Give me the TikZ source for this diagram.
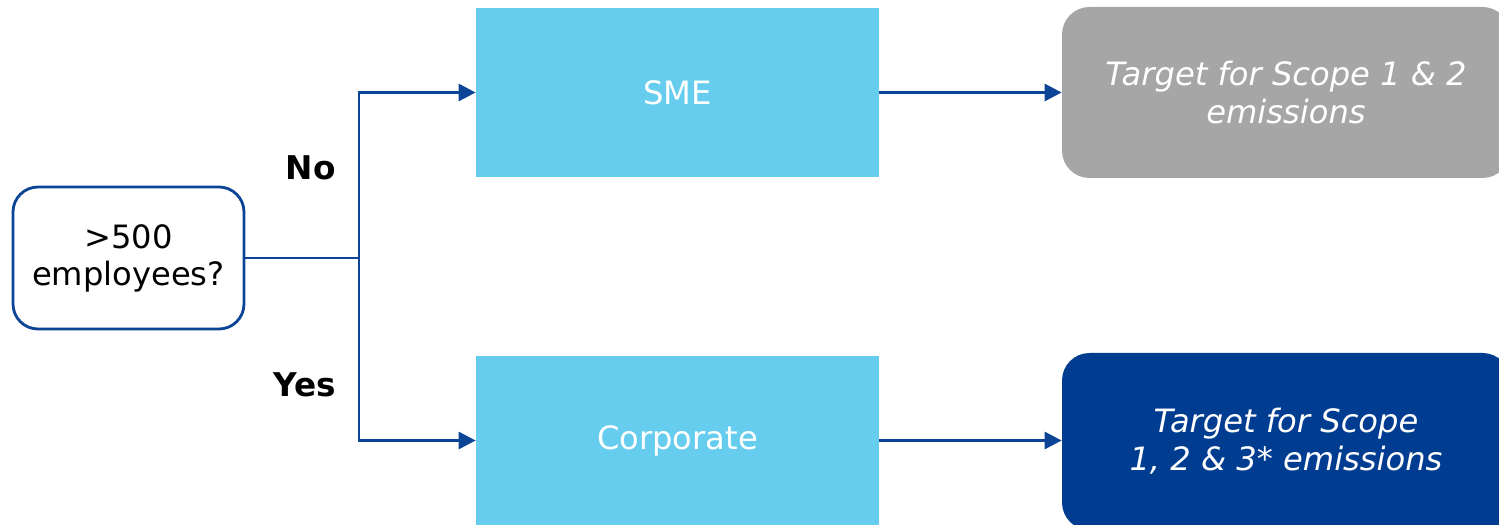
\documentclass[tikz,border=0pt]{standalone}
\usepackage{fontspec}
\setmainfont{DejaVu Sans}
\usetikzlibrary{arrows.meta}

\definecolor{lineblue}{HTML}{0C4596}
\definecolor{boxblue}{HTML}{66CDEF}
\definecolor{boxgrey}{HTML}{A6A6A6}
\definecolor{boxnavy}{HTML}{003D91}

\begin{document}
\begin{tikzpicture}[x=0.2mm,y=-0.2mm,>={Triangle[length=3.4mm,width=3.4mm]},
    font=\fontsize{18.3}{21}\selectfont]
    % one unit is one pixel of the 1499 x 525 page
    \tikzstyle{question}=[rectangle,rounded corners=0.5cm,draw=lineblue,line width=1.6pt,
    fill=white,minimum width=4.62cm,minimum height=2.84cm,align=center]
    \tikzstyle{category}=[rectangle,fill=boxblue,text=white,minimum width=8.06cm,
    minimum height=3.38cm]
    \tikzstyle{target}=[rectangle,rounded corners=0.55cm,text=white,align=center,
    minimum width=8.96cm,font=\fontsize{18.3}{21.5}\selectfont\itshape]
    \tikzstyle{link}=[draw=lineblue,line width=1.6pt]
    \tikzstyle{answer}=[anchor=east,inner sep=0pt,font=\fontsize{18.6}{21}\selectfont\bfseries]

    \useasboundingbox (0,0) rectangle (1499,525);
    \clip (0,0) rectangle (1499,525);

    \node [question] (size) at (128.5,258) {>500\\employees?};
    \node [category] (sme)  at (677.5,92.5) {SME};
    \node [category] (corp) at (677.5,440.5) {Corporate};
    \node [target,fill=boxgrey,minimum height=3.42cm] (scope12)  at (1286,92.5)
      {Target for Scope 1 \& 2\\emissions};
    \node [target,fill=boxnavy,minimum height=3.54cm] (scope123) at (1286,441.5)
      {Target for Scope\\1, 2 \& 3* emissions};

    \coordinate (split) at (359,258);
    \node [answer] (no)  at (336,168) {No};
    \node [answer] (yes) at (336,385) {Yes};

    \draw [link] (size.east) -- (split);
    \draw [link,->] (split) |- (sme.west);
    \draw [link,->] (split) |- (corp.west);
    \draw [link,->] (sme.east) -- (sme.east -| scope12.west);
    \draw [link,->] (corp.east) -- (corp.east -| scope123.west);
  \end{tikzpicture}
\end{document}
